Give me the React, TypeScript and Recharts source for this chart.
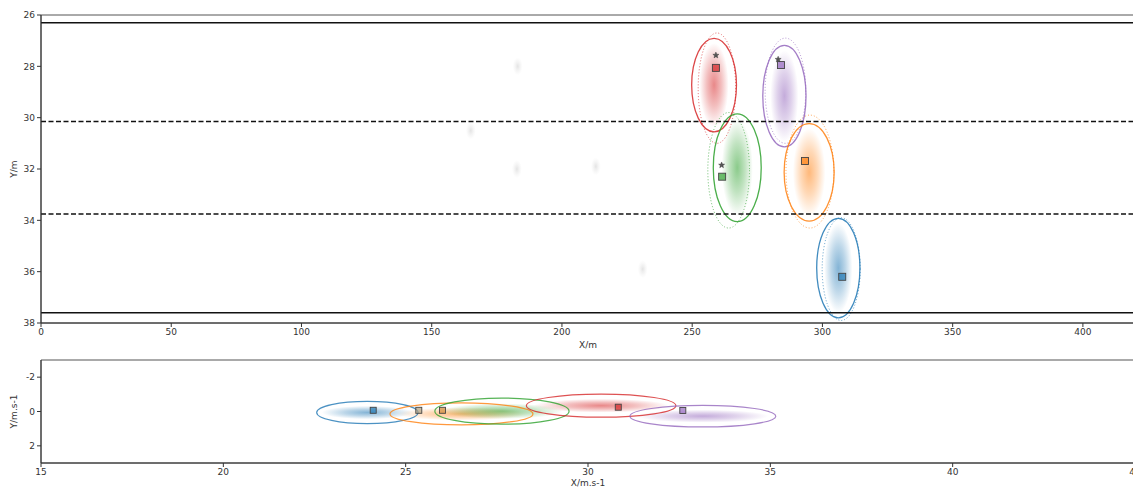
import React from 'react';
import {
  ComposedChart, XAxis, YAxis, Scatter, ReferenceArea, ReferenceLine,
} from 'recharts';

// ---------- Top panel: positions (m) ----------
const vehColors = ['#d62728', '#9467bd', '#2ca02c', '#ff7f0e', '#1f77b4'];
const topCx = [258.4, 285.4, 267.3, 294.9, 306.1];
const topCy = [28.73, 29.16, 31.95, 32.13, 35.86];
const topRx = [8.6, 8.3, 9.2, 9.6, 8.3];
const topRy = [1.82, 1.98, 2.1, 1.9, 1.94];
// dotted (predicted) ellipses
const topDx = [259.5, 285.8, 264.0, 295.2, 307.2];
const topDy = [28.85, 28.95, 32.05, 32.1, 35.9];
const topDrx = [7.2, 7.8, 8.0, 9.2, 7.3];
const topDry = [2.15, 2.05, 2.25, 2.2, 2.0];
// square markers
const topSqX = [259.1, 284.1, 261.5, 293.3, 307.6];
const topSqY = [28.06, 27.95, 32.3, 31.69, 36.2];
// star markers
const topStX = [259.1, 283.0, 261.3];
const topStY = [27.57, 27.73, 31.85];
// faint background traces
const ghostX = [183, 165, 182.7, 213, 231];
const ghostY = [28.0, 30.5, 32.0, 31.9, 35.9];
// lane lines
const solidLanes = [26.3, 37.6];
const dashedLanes = [30.15, 33.75];
const topXTicks = [0, 50, 100, 150, 200, 250, 300, 350, 400];
const topYTicks = [26, 28, 30, 32, 34, 36, 38];

// ---------- Bottom panel: velocities (m/s) ----------
const botColors = ['#1f77b4', '#ff7f0e', '#2ca02c', '#d62728', '#9467bd'];
const botCx = [23.95, 26.53, 27.64, 30.36, 33.15];
const botCy = [0.06, 0.14, -0.02, -0.34, 0.27];
const botRx = [1.39, 1.96, 1.84, 2.05, 2.0];
const botRy = [0.65, 0.64, 0.76, 0.67, 0.63];
const botSqX = [24.11, 25.36, 26.01, 30.83, 32.6];
const botSqY = [-0.07, -0.07, -0.07, -0.25, -0.06];
const botSqColors = ['#1f77b4', '#b0a080', '#d08a3a', '#d62728', '#9467bd'];
const botXTicks = [15, 20, 25, 30, 35, 40, 45];
const botYTicks = [-2, 0, 2];

const FONT = 'DejaVu Sans, sans-serif';
const tickStyle = { fontSize: 9, fill: '#333', fontFamily: FONT };

const ellipseShape = (stroke: string, dash?: string, width = 1.2, opacity = 1) => (p: any) => {
  const x = Math.min(p.x, p.x + p.width);
  const y = Math.min(p.y, p.y + p.height);
  const w = Math.abs(p.width);
  const h = Math.abs(p.height);
  return (
    <ellipse cx={x + w / 2} cy={y + h / 2} rx={w / 2} ry={h / 2} fill="none"
      stroke={stroke} strokeWidth={width} strokeDasharray={dash} strokeOpacity={opacity} />
  );
};

const cloudShape = (gid: string) => (p: any) => {
  const x = Math.min(p.x, p.x + p.width);
  const y = Math.min(p.y, p.y + p.height);
  const w = Math.abs(p.width);
  const h = Math.abs(p.height);
  return <ellipse cx={x + w / 2} cy={y + h / 2} rx={w / 2} ry={h / 2} fill={`url(#${gid})`} stroke="none" />;
};

const squareShape = (fill: string, size = 7) => (p: any) => (
  <rect x={p.cx - size / 2} y={p.cy - size / 2} width={size} height={size}
    fill={fill} fillOpacity={0.7} stroke="#444" strokeWidth={0.9} />
);

const starShape = (p: any) => {
  const r1 = 3.2, r2 = 1.4;
  let d = '';
  for (let i = 0; i < 10; i++) {
    const r = i % 2 === 0 ? r1 : r2;
    const a = -Math.PI / 2 + (i * Math.PI) / 5;
    d += (i === 0 ? 'M' : 'L') + (p.cx + r * Math.cos(a)).toFixed(2) + ',' + (p.cy + r * Math.sin(a)).toFixed(2);
  }
  return <path d={d + 'Z'} fill="#555" stroke="#333" strokeWidth={0.4} />;
};

const ghostShape = (p: any) => (
  <ellipse cx={p.cx} cy={p.cy} rx={5} ry={9} fill="url(#ghostg)" />
);

const yLabel = (text: string) => (p: any) => {
  const vb = p.viewBox || {};
  const cx = 14;
  const cy = vb.y + vb.height / 2;
  return (
    <text x={cx} y={cy} transform={`rotate(-90 ${cx} ${cy})`} textAnchor="middle"
      dominantBaseline="central" fontSize={9} fill="#333" fontFamily={FONT}>{text}</text>
  );
};

const xLabel = (text: string, dy: number) => (p: any) => {
  const vb = p.viewBox || {};
  return (
    <text x={vb.x + vb.width / 2} y={vb.y + dy} textAnchor="middle" fontSize={9}
      fill="#333" fontFamily={FONT}>{text}</text>
  );
};

const Gradients = ({ prefix, colors }: { prefix: string; colors: string[] }) => (
  <defs>
    {colors.map((c, i) => (
      <radialGradient key={i} id={`${prefix}${i}`} cx="50%" cy="50%" r="50%">
        <stop offset="0%" stopColor={c} stopOpacity={0.55} />
        <stop offset="50%" stopColor={c} stopOpacity={0.3} />
        <stop offset="100%" stopColor={c} stopOpacity={0} />
      </radialGradient>
    ))}
    <radialGradient id="ghostg" cx="50%" cy="50%" r="50%">
      <stop offset="0%" stopColor="#d8d8d8" stopOpacity={0.7} />
      <stop offset="100%" stopColor="#e8e8e8" stopOpacity={0} />
    </radialGradient>
  </defs>
);

export default function App() {
  const topSq = topSqX.map((x, i) => ({ x, y: topSqY[i] }));
  const topSt = topStX.map((x, i) => ({ x, y: topStY[i] }));
  const ghosts = ghostX.map((x, i) => ({ x, y: ghostY[i] }));
  return (
    <div style={{ position: 'absolute', left: 0, top: 0, width: 1133, height: 489, overflow: 'hidden', background: '#fff', fontFamily: FONT }}>
      <div style={{ position: 'absolute', left: 0, top: 0 }}>
        <ComposedChart width={1140} height={350} margin={{ top: 15, right: 5, bottom: 0, left: 0 }}>
          <Gradients prefix="tg" colors={vehColors} />
          <XAxis type="number" dataKey="x" domain={[0, 420]} ticks={topXTicks} allowDataOverflow
            height={27} tick={tickStyle} tickSize={4} tickMargin={2} stroke="#333"
            label={{ content: xLabel('X/m', 25) } as any} />
          <YAxis type="number" dataKey="y" domain={[26, 38]} ticks={topYTicks} reversed allowDataOverflow
            width={41} tick={tickStyle} tickSize={4} tickMargin={2} stroke="#333"
            label={{ content: yLabel('Y/m') } as any} />
          <Scatter data={ghosts} shape={ghostShape} isAnimationActive={false} />
          {topCx.map((cx, i) => (
            <ReferenceArea key={`c${i}`} x1={cx - topRx[i] * 0.65} x2={cx + topRx[i] * 0.65}
              y1={topCy[i] - topRy[i] * 0.9} y2={topCy[i] + topRy[i] * 0.9}
              ifOverflow="visible" shape={cloudShape(`tg${i}`)} />
          ))}
          {topDx.map((cx, i) => (
            <ReferenceArea key={`d${i}`} x1={cx - topDrx[i]} x2={cx + topDrx[i]}
              y1={topDy[i] - topDry[i]} y2={topDy[i] + topDry[i]}
              ifOverflow="visible" shape={ellipseShape(vehColors[i], '1 2', 1, 0.7)} />
          ))}
          {topCx.map((cx, i) => (
            <ReferenceArea key={`e${i}`} x1={cx - topRx[i]} x2={cx + topRx[i]}
              y1={topCy[i] - topRy[i]} y2={topCy[i] + topRy[i]}
              ifOverflow="visible" shape={ellipseShape(vehColors[i], undefined, 1.3, 0.85)} />
          ))}
          {solidLanes.map((v) => (
            <ReferenceLine key={`s${v}`} y={v} stroke="#111" strokeWidth={1.5} />
          ))}
          {dashedLanes.map((v) => (
            <ReferenceLine key={`h${v}`} y={v} stroke="#111" strokeWidth={1.5} strokeDasharray="5 2.5" />
          ))}
          {topSq.map((pt, i) => (
            <Scatter key={`q${i}`} data={[pt]} shape={squareShape(vehColors[i])} isAnimationActive={false} />
          ))}
          <Scatter data={topSt} shape={starShape} isAnimationActive={false} />
          <ReferenceArea x1={0} x2={420} y1={26} y2={38} fill="none" stroke="#555" strokeWidth={1} ifOverflow="visible" />
        </ComposedChart>
      </div>
      <div style={{ position: 'absolute', left: 0, top: 350 }}>
        <ComposedChart width={1140} height={139} margin={{ top: 10, right: 5, bottom: 0, left: 0 }}>
          <Gradients prefix="bg" colors={botColors} />
          <XAxis type="number" dataKey="x" domain={[15, 45]} ticks={botXTicks} allowDataOverflow
            height={26} tick={tickStyle} tickSize={4} tickMargin={2} stroke="#333"
            label={{ content: xLabel('X/m.s-1', 23) } as any} />
          <YAxis type="number" dataKey="y" domain={[-3, 3]} ticks={botYTicks} reversed allowDataOverflow
            width={41} tick={tickStyle} tickSize={4} tickMargin={2} stroke="#333"
            label={{ content: yLabel('Y/m.s-1') } as any} />
          {botCx.map((cx, i) => (
            <ReferenceArea key={`c${i}`} x1={cx - botRx[i] * 0.9} x2={cx + botRx[i] * 0.9}
              y1={botCy[i] - botRy[i] * 0.6} y2={botCy[i] + botRy[i] * 0.6}
              ifOverflow="visible" shape={cloudShape(`bg${i}`)} />
          ))}
          {botCx.map((cx, i) => (
            <ReferenceArea key={`e${i}`} x1={cx - botRx[i]} x2={cx + botRx[i]}
              y1={botCy[i] - botRy[i]} y2={botCy[i] + botRy[i]}
              ifOverflow="visible" shape={ellipseShape(botColors[i], undefined, 1.2, 0.8)} />
          ))}
          {botSqX.map((x, i) => (
            <Scatter key={`q${i}`} data={[{ x, y: botSqY[i] }]} shape={squareShape(botSqColors[i], 6)} isAnimationActive={false} />
          ))}
          <ReferenceArea x1={15} x2={45} y1={-3} y2={3} fill="none" stroke="#555" strokeWidth={1} ifOverflow="visible" />
        </ComposedChart>
      </div>
    </div>
  );
}
